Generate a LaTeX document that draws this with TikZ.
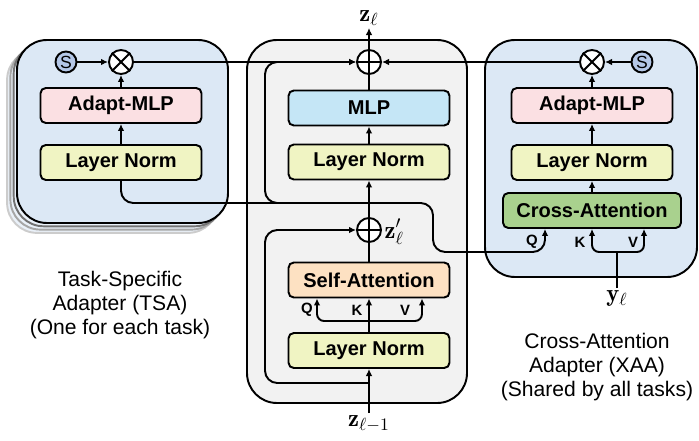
\documentclass[tikz,border=0pt]{standalone}
\usepackage{fontspec}
\newfontfamily\sansfont{Liberation Sans}
\usetikzlibrary{arrows.meta}

\definecolor{adapterblue}{RGB}{220,232,245}
\definecolor{panelgray}{RGB}{242,242,242}
\definecolor{mlppink}{RGB}{251,224,227}
\definecolor{normyellow}{RGB}{240,244,195}
\definecolor{mlpblue}{RGB}{197,230,246}
\definecolor{attnorange}{RGB}{253,225,194}
\definecolor{attngreen}{RGB}{169,209,142}
\definecolor{scaleblue}{RGB}{180,199,231}

\tikzset{
	block/.style = {draw, rounded corners = 3pt, minimum width = 3.22cm, minimum height = 0.70cm, font = \sansfont\bfseries\fontsize{11.4}{13}\selectfont},
	opnode/.style = {circle, draw, fill = white, minimum size = 0.48cm, inner sep = 0pt},
	scalenode/.style = {circle, draw, fill = scaleblue, minimum size = 0.42cm, inner sep = 0pt, font = \sansfont\fontsize{10}{11}\selectfont},
	panel/.style = {draw, rounded corners = 0.6cm},
	qkv/.style = {font = \sansfont\bfseries\fontsize{8.5}{10}\selectfont, inner sep = 1pt},
	mathlab/.style = {font = \fontsize{14}{16}\selectfont, inner sep = 1pt},
	caption/.style = {align = center, font = \sansfont\fontsize{12}{13.7}\selectfont},
}

\begin{document}
\begin{tikzpicture}[line width = 1.1pt, >= {Latex[length = 4pt, width = 3.8pt]}]
	\useasboundingbox (0, 0) rectangle (13.98, 8.80);

	% panels (task-specific adapter stacked)
	\foreach \k/\tone in {3/black!20, 2/black!35, 1/black!55}
		\node (tsa\k) at (2.45 - 0.066*\k, 6.17 - 0.066*\k)	[panel, draw = \tone, fill = adapterblue!60, minimum width = 4.22cm, minimum height = 3.66cm]	{};
	\node (tsa)	at ( 2.45,  6.17)	[panel, fill = adapterblue, minimum width = 4.22cm, minimum height = 3.66cm]	{};
	\node (core)	at ( 7.14,  4.37)	[panel, fill = panelgray, minimum width = 4.40cm, minimum height = 7.26cm]	{};
	\node (xaa)	at (11.82,  5.63)	[panel, fill = adapterblue, minimum width = 4.24cm, minimum height = 4.74cm]	{};

	% TSA
	\node (tln)	at ( 2.42,  5.55)	[block, fill = normyellow]	{Layer Norm};
	\node (tmlp)	at ( 2.42,  6.69)	[block, fill = mlppink]	{Adapt-MLP};
	\node (tmul)	at ( 2.42,  7.56)	[opnode]	{};
	\node (ts)	at ( 1.32,  7.56)	[scalenode]	{S};

	% transformer block
	\node (ln1)	at ( 7.38,  1.79)	[block, fill = normyellow]	{Layer Norm};
	\node (sa)	at ( 7.38,  3.20)	[block, fill = attnorange]	{Self-Attention};
	\node (add1)	at ( 7.38,  4.20)	[opnode]	{};
	\node (ln2)	at ( 7.38,  5.56)	[block, fill = normyellow]	{Layer Norm};
	\node (mlp)	at ( 7.38,  6.64)	[block, fill = mlpblue]	{MLP};
	\node (add2)	at ( 7.38,  7.56)	[opnode]	{};

	% XAA
	\node (ca)	at (11.84,  4.59)	[block, fill = attngreen, minimum width = 3.56cm]	{Cross-Attention};
	\node (xln)	at (11.84,  5.55)	[block, fill = normyellow]	{Layer Norm};
	\node (xmlp)	at (11.84,  6.69)	[block, fill = mlppink]	{Adapt-MLP};
	\node (xmul)	at (11.84,  7.56)	[opnode]	{};
	\node (xs)	at (12.84,  7.56)	[scalenode]	{S};

	% plus and times marks
	\foreach \n in {add1, add2} {
		\draw (\n.north) -- (\n.south);
		\draw (\n.west) -- (\n.east);
	}
	\foreach \n in {tmul, xmul} {
		\draw (\n.north west) -- (\n.south east);
		\draw (\n.north east) -- (\n.south west);
	}

	% terminals and labels
	\coordinate (zin)	at ( 7.38,  0.54);
	\coordinate (zout)	at ( 7.38,  8.24);
	\coordinate (yin)	at (12.34,  3.04);
	\node (zinlab)	at (zin)	[mathlab, below]	{$\mathbf{z}_{\ell-1}$};
	\node (zoutlab)	at (zout)	[mathlab, above]	{$\mathbf{z}_{\ell}$};
	\node (zmidlab)	at (add1.east)	[mathlab, right, yshift = -1pt]	{$\mathbf{z}'_{\ell}$};
	\node (yinlab)	at (yin)	[mathlab, below]	{$\mathbf{y}_{\ell}$};

	\node (sq)	at ( 6.14,  2.60)	[qkv]	{Q};
	\node (sk)	at ( 7.14,  2.60)	[qkv]	{K};
	\node (sv)	at ( 8.10,  2.60)	[qkv]	{V};
	\node (cq)	at (10.64,  3.96)	[qkv]	{Q};
	\node (ck)	at (11.60,  3.96)	[qkv]	{K};
	\node (cv)	at (12.66,  3.96)	[qkv]	{V};

	\node (tsacap)	at ( 2.40,  2.70)	[caption]	{Task-Specific\\Adapter (TSA)\\(One for each task)};
	\node (xaacap)	at (11.94,  1.46)	[caption]	{Cross-Attention\\Adapter (XAA)\\(Shared by all tasks)};

	% first half of the block
	\coordinate (res1)	at ( 7.38,  1.14);
	\coordinate (sabar)	at ( 7.38,  2.38);
	\draw[->] (zin) -- (ln1);
	\draw (ln1) -- (sabar);
	\draw[->] (sabar) -- (sa);
	\draw[->, rounded corners = 4pt] (sabar) -| ([xshift = -1.04cm]sa.south);
	\draw[->, rounded corners = 4pt] (sabar) -| ([xshift =  1.06cm]sa.south);
	\draw (sa) -- (add1);
	\draw[->, rounded corners = 7pt] (res1) -| (5.30, 4.20) -- (add1);

	% second half of the block
	\coordinate (br)	at ( 7.38,  4.74);
	\draw[->] (add1) -- (ln2);
	\draw[->] (ln2) -- (mlp);
	\draw (mlp) -- (add2);
	\draw[->] (add2) -- (zout);
	\draw[->, rounded corners = 7pt] (br) -| (5.30, 7.56) -- (add2);

	% TSA wires
	\draw[->] (tln) -- (tmlp);
	\draw[->] (tmlp) -- (tmul);
	\draw[->] (ts) -- (tmul);
	\draw[->] (tmul) -- (add2);

	% XAA wires
	\coordinate (kvbar)	at (12.34,  3.76);
	\draw[->, rounded corners = 7pt] (tln.south) |- (8.66, 4.74) |- (10.90, 3.76) -- ([xshift = -0.94cm]ca.south);
	\draw[->] (ca) -- (xln);
	\draw[->] (xln) -- (xmlp);
	\draw[->] (xmlp) -- (xmul);
	\draw[->] (xs) -- (xmul);
	\draw[->] (xmul) -- (add2);
	\draw (yin) -- (kvbar);
	\draw[->, rounded corners = 4pt] (kvbar) -| (ca.south);
	\draw[->, rounded corners = 4pt] (kvbar) -| ([xshift = 1.04cm]ca.south);
\end{tikzpicture}
\end{document}
